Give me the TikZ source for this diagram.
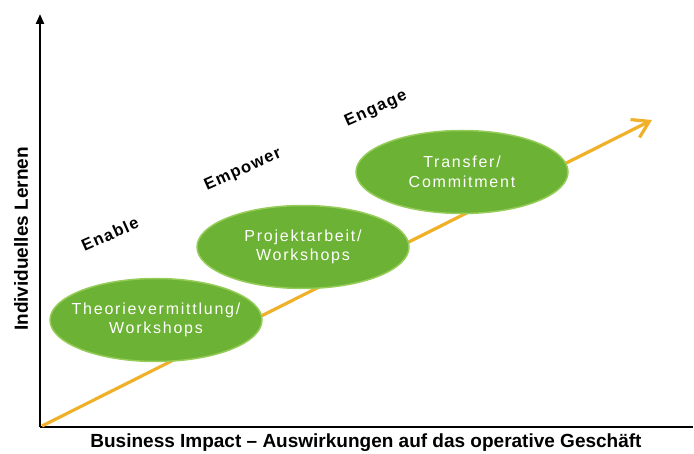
\documentclass[tikz,border=0pt]{standalone}
\usepackage{fontspec}
\setmainfont{Liberation Sans}
\newfontfamily\ellfont[LetterSpace=11]{Liberation Sans}
\newfontfamily\lblfont[LetterSpace=8]{Liberation Sans}
\usetikzlibrary{arrows.meta,shapes.geometric}
\definecolor{leafgreen}{RGB}{108,178,52}
\definecolor{rimgreen}{RGB}{150,205,90}
\definecolor{goldline}{RGB}{240,176,40}
\tikzset{
  stageell/.style={ellipse, fill=leafgreen, draw=rimgreen, line width=1.5pt,
    minimum width=212pt, minimum height=83pt, inner xsep=-16pt, inner ysep=0pt,
    text=white, align=center, font=\ellfont\fontsize{16}{19.5}\selectfont},
  phaselbl/.style={font=\lblfont\bfseries\fontsize{16.5}{18}\selectfont, rotate=24},
  axisline/.style={line width=2.2pt, black},
  axislbl/.style={font=\bfseries\fontsize{19}{21}\selectfont}
}
\begin{document}
\begin{tikzpicture}[x=1pt,y=-1pt]
\useasboundingbox (0,0) rectangle (694,454);
% axes
\coordinate (origin) at (40,427);
\coordinate (ytop) at (40,14);
\coordinate (xend) at (693,427);
\draw[axisline,-{Triangle[length=10pt,width=8pt]}] (origin) -- (ytop);
\draw[axisline] (origin) -- (xend);
% orange arrow
\coordinate (astart) at (42,426);
\coordinate (aend) at (652,120);
\draw[goldline, line width=3.2pt, -{Straight Barb[length=16pt,width=20pt,line width=3.2pt]}] (astart) -- (aend);
% ellipses
\node[stageell] (e1) at (156,320) {Theorievermittlung/\\Workshops};
\node[stageell] (e2) at (303,247) {Projektarbeit/\\Workshops};
\node[stageell] (e3) at (462,172) {Transfer/\\Commitment};
% phase labels
\node[phaselbl] (l1) at (110,234) {Enable};
\node[phaselbl] (l2) at (243,170) {Empower};
\node[phaselbl] (l3) at (376,109) {Engage};
% axis labels
\node[axislbl, rotate=90] (ylab) at (21,239) {Individuelles Lernen};
\node[axislbl] (xlab) at (366,443) {Business Impact -- Auswirkungen auf das operative Geschäft};
\end{tikzpicture}
\end{document}
